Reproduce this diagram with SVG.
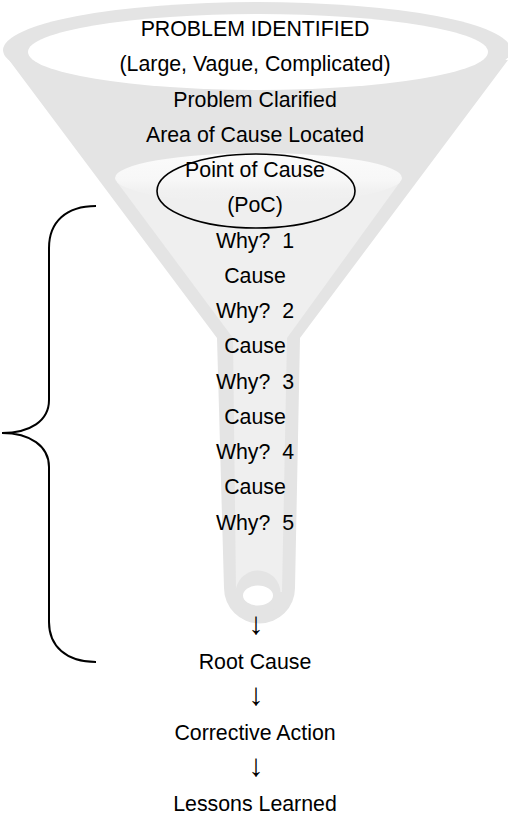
<svg xmlns="http://www.w3.org/2000/svg" width="508" height="820" viewBox="0 0 508 820">
<style>
text{font-family:"Liberation Sans",Arial,sans-serif;font-size:21.33px;fill:#000;text-anchor:middle}
text.arr{font-family:"Liberation Serif","Times New Roman",serif;font-size:31px}
.outer{fill:#e4e4e4}
.inner{fill:#efefef}
.line{fill:none;stroke:#000;stroke-width:2}
</style>
<defs>
<linearGradient id="rim" x1="0" y1="0" x2="0" y2="1">
<stop offset="0" stop-color="#fbfbfb"/>
<stop offset="0.55" stop-color="#f7f7f7"/>
<stop offset="0.75" stop-color="#f1f1f1"/>
<stop offset="1" stop-color="#efefef"/>
</linearGradient>
</defs>
<rect width="508" height="820" fill="#fff"/>
<g id="funnel">
<ellipse class="outer" cx="257" cy="50" rx="254" ry="48"/>
<path class="outer" d="M9,60 L217,338 L224,588 A35.5,35.5 0 0 0 295,588 L300,338 L508,60 Z"/>
<ellipse cx="258" cy="52" rx="230" ry="38" fill="#fff"/>
<path class="inner" d="M117,182 L233,338 L236,592 L282,592 L287,338 L400,182 Z"/>
<ellipse cx="258.5" cy="178" rx="143.5" ry="25" fill="url(#rim)"/>
<circle class="outer" cx="258" cy="593" r="22.5"/>
<ellipse cx="258" cy="595.5" rx="15" ry="10" fill="#fff"/>
</g>
<g id="brace">
<path class="line" d="M96,206 C66,206 49,222 49,248 L49,400 C49,421 30,433 2,433 C30,433 49,446 49,467 L49,622 C49,646 66,662 96,662"/>
</g>
<g id="poc">
<ellipse class="line" cx="256" cy="191" rx="99" ry="37" style="stroke-width:1.6"/>
</g>
<g id="n-problem"><text x="255" y="36">PROBLEM IDENTIFIED</text><text x="255" y="71.3">(Large, Vague, Complicated)</text></g>
<g id="n-clarified"><text x="255" y="106.5">Problem Clarified</text></g>
<g id="n-area"><text x="255" y="141.8">Area of Cause Located</text></g>
<g id="n-point"><text x="255" y="177">Point of Cause</text><text x="255" y="212.3">(PoC)</text></g>
<g id="n-why1"><text x="255" y="247.5" xml:space="preserve">Why?  1</text></g>
<g id="n-cause1"><text x="255" y="282.8">Cause</text></g>
<g id="n-why2"><text x="255" y="318" xml:space="preserve">Why?  2</text></g>
<g id="n-cause2"><text x="255" y="353.3">Cause</text></g>
<g id="n-why3"><text x="255" y="388.5" xml:space="preserve">Why?  3</text></g>
<g id="n-cause3"><text x="255" y="423.8">Cause</text></g>
<g id="n-why4"><text x="255" y="459" xml:space="preserve">Why?  4</text></g>
<g id="n-cause4"><text x="255" y="494.3">Cause</text></g>
<g id="n-why5"><text x="255" y="529.5" xml:space="preserve">Why?  5</text></g>
<g id="n-root"><text x="255" y="669">Root Cause</text></g>
<g id="n-corrective"><text x="255" y="740">Corrective Action</text></g>
<g id="n-lessons"><text x="255" y="811">Lessons Learned</text></g>
<g id="connectors">
<text class="arr" x="256" y="634">↓</text>
<text class="arr" x="256" y="705">↓</text>
<text class="arr" x="256" y="776">↓</text>
</g>
</svg>
